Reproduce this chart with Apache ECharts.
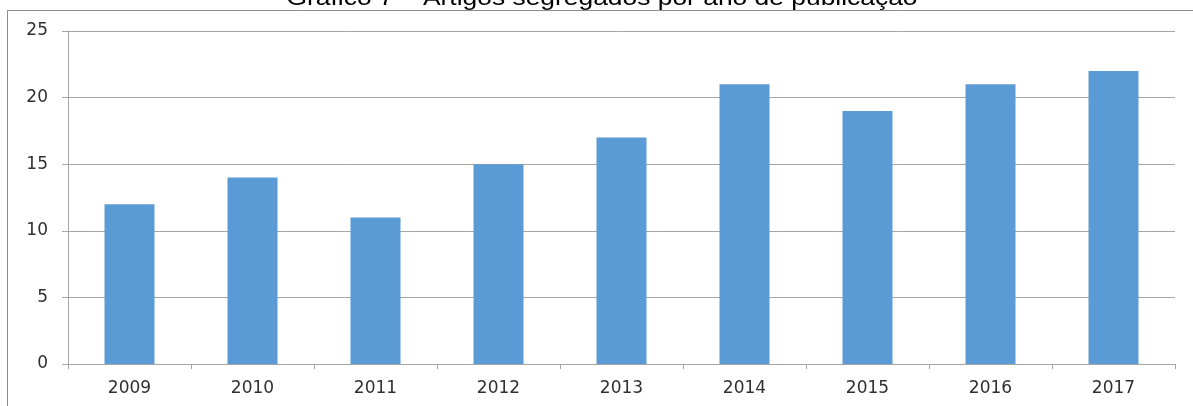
<!DOCTYPE html>
<html>
<head>
<meta charset="utf-8">
<script src="https://cdn.jsdelivr.net/npm/echarts@6/dist/echarts.min.js"></script>
<style>
  html, body { margin: 0; padding: 0; background: #fff; }
  #chart { width: 1193px; height: 406px; }
</style>
</head>
<body>
<div id="chart"></div>
<script>
// dados do gráfico
const titleText = 'Gráfico 7 – Artigos segregados por ano de publicação';
const years = ['2009', '2010', '2011', '2012', '2013', '2014', '2015', '2016', '2017'];
const artigos = [12, 14, 11, 15, 17, 21, 19, 21, 22];
const yTicks = [0, 5, 10, 15, 20, 25];

const chart = echarts.init(document.getElementById('chart'));

const labelFont = '"DejaVu Sans", sans-serif';

const option = {
  animation: false,
  backgroundColor: '#fff',
  grid: { left: 68, right: 18, top: 31, bottom: 42 },
  graphic: [
    // título cortado no topo (imagem original esticada na horizontal)
    {
      type: 'text', x: 602, y: 10, scaleX: 1.2, scaleY: 1,
      style: {
        text: titleText, fill: '#000',
        font: '22px "Liberation Sans", Arial, sans-serif',
        align: 'center', verticalAlign: 'bottom'
      }
    },
    // moldura
    { type: 'line', shape: { x1: 7, y1: 10.5, x2: 1193, y2: 10.5 }, style: { stroke: '#8c8c8c', lineWidth: 1 } },
    { type: 'line', shape: { x1: 7.5, y1: 10, x2: 7.5, y2: 406 }, style: { stroke: '#8c8c8c', lineWidth: 1 } }
  ],
  xAxis: {
    type: 'category',
    data: years,
    axisLine: { lineStyle: { color: '#a6a6a6' } },
    axisTick: { show: true, length: 5, lineStyle: { color: '#a6a6a6' } },
    axisLabel: { color: '#303030', fontSize: 17, fontFamily: labelFont, margin: 16 }
  },
  yAxis: {
    type: 'value',
    min: 0, max: 25, interval: 5,
    axisLine: { show: true, lineStyle: { color: '#a6a6a6' } },
    axisTick: { show: true, length: 6, lineStyle: { color: '#a6a6a6' } },
    splitLine: { lineStyle: { color: '#a6a6a6' } },
    axisLabel: {
      color: '#303030', fontSize: 17, fontFamily: labelFont, margin: 20,
      formatter: v => yTicks.includes(v) ? String(v) : ''
    }
  },
  series: [{
    type: 'bar',
    data: artigos,
    barWidth: 50,
    itemStyle: { color: '#5b9bd5' }
  }]
};

chart.setOption(option);
</script>
</body>
</html>
